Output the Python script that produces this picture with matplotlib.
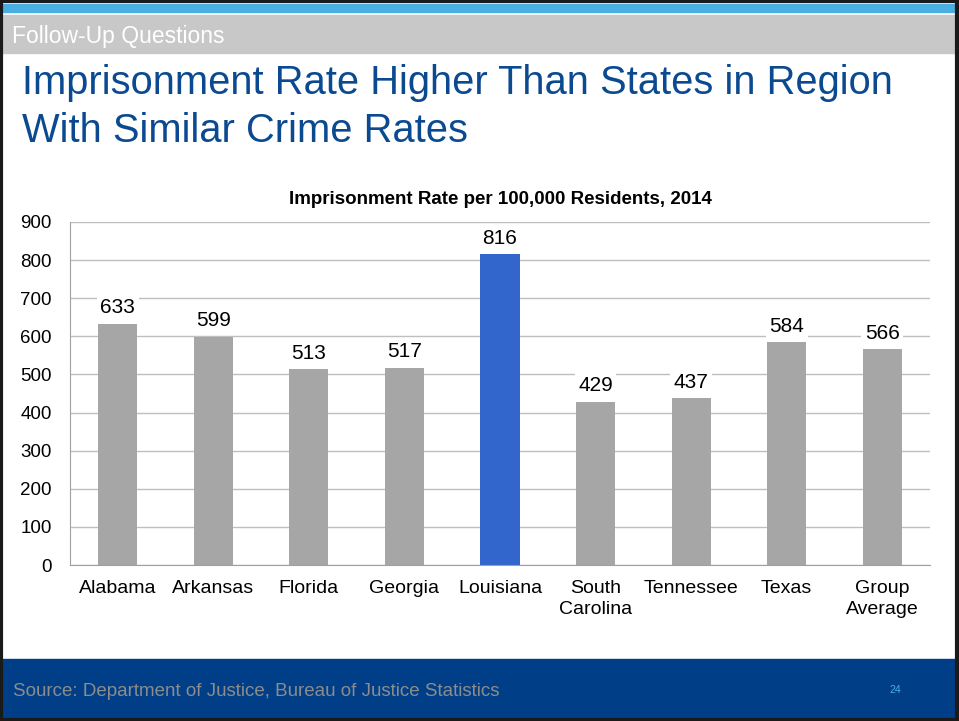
import matplotlib
matplotlib.use("Agg")
import matplotlib.pyplot as plt
from matplotlib.patches import Rectangle

plt.rcParams["font.family"] = ["Liberation Sans", "DejaVu Sans"]

states = ["Alabama", "Arkansas", "Florida", "Georgia", "Louisiana",
          "South\nCarolina", "Tennessee", "Texas", "Group\nAverage"]
rates = [633, 599, 513, 517, 816, 429, 437, 584, 566]
highlight = "Louisiana"
y_ticks = [0, 100, 200, 300, 400, 500, 600, 700, 800, 900]

GRAY_BAR = "#A6A6A6"
BLUE_BAR = "#3366CC"
NAVY = "#003F87"
TITLE_BLUE = "#0B4A91"

W, H = 959, 721
fig = plt.figure(figsize=(W / 100, H / 100), dpi=100)


def fy(py):
    return 1 - py / H


# slide header: light blue stripe, gray section band
fig.patches.append(Rectangle((0, fy(12)), 1, 8 / H, transform=fig.transFigure,
                             color="#4AAEE0", zorder=0))
fig.patches.append(Rectangle((0, fy(53)), 1, 38 / H, transform=fig.transFigure,
                             color="#C8C8C8", zorder=0))
fig.text(12 / W, fy(36), "Follow-Up Questions", color="white", fontsize=16.5,
         va="center", ha="left")

fig.text(22 / W, fy(83), "Imprisonment Rate Higher Than States in Region",
         color=TITLE_BLUE, fontsize=28.7, va="center", ha="left")
fig.text(22 / W, fy(131), "With Similar Crime Rates",
         color=TITLE_BLUE, fontsize=28.7, va="center", ha="left")

# footer band
fig.patches.append(Rectangle((0, 0), 1, (H - 659) / H, transform=fig.transFigure,
                             color=NAVY, zorder=0))
fig.text(13 / W, fy(691), "Source: Department of Justice, Bureau of Justice Statistics",
         color="#8C8C8C", fontsize=13.5, va="center", ha="left")
fig.text(895 / W, fy(690), "24", color="#4AAEE0", fontsize=7.5, va="center", ha="center")

# dark outline around the slide
fig.patches.append(Rectangle((0.001, 0.001), 0.997, 0.997, transform=fig.transFigure,
                             fill=False, edgecolor="#1A1A1A", linewidth=3, zorder=10))

ax = fig.add_axes([70 / W, fy(565), (930 - 70) / W, (565 - 222) / H])
colors = [BLUE_BAR if s == highlight else GRAY_BAR for s in states]
x = range(len(states))
bars = ax.bar(x, rates, width=0.41, color=colors, zorder=2)

for rect, val in zip(bars, rates):
    ax.text(rect.get_x() + rect.get_width() / 2, val + 17, str(val),
            ha="center", va="bottom", fontsize=15, zorder=3,
            bbox=dict(facecolor="white", edgecolor="none", pad=2.5))

ax.set_ylim(0, 900)
ax.set_xlim(-0.5, len(states) - 0.5)
ax.set_yticks(y_ticks)
ax.yaxis.grid(True, color="#BFBFBF", linewidth=1, zorder=0)
ax.set_axisbelow(True)
ax.set_xticks(list(x))
ax.set_xticklabels(states, fontsize=14, linespacing=1.3)
ax.tick_params(axis="x", length=0, pad=11)
ax.tick_params(axis="y", length=0, pad=13, labelsize=13.5)
for side in ["top", "right"]:
    ax.spines[side].set_visible(False)
ax.spines["left"].set_color("#A0A0A0")
ax.spines["bottom"].set_color("#A0A0A0")

ax.set_title("Imprisonment Rate per 100,000 Residents, 2014", fontsize=13.5,
             fontweight="bold", pad=13)

fig.savefig("out.png", dpi=100)
